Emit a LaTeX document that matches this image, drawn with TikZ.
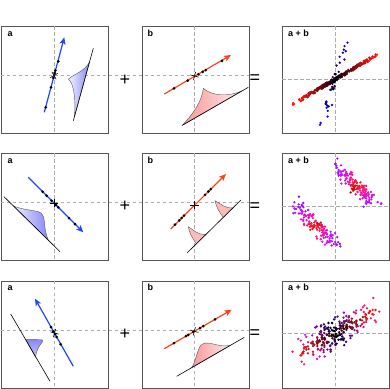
\documentclass[tikz,border=0pt]{standalone}
\usepackage{fontspec}
\setmainfont{Liberation Sans}
\usetikzlibrary{arrows.meta,shapes.misc}

\definecolor{acol}{RGB}{30,70,255}
\definecolor{bcol}{RGB}{255,65,25}
\definecolor{afill}{RGB}{135,135,250}
\definecolor{bfill}{RGB}{250,150,150}
\definecolor{frame}{RGB}{85,85,85}

\tikzset{
  pbox/.style={draw=frame,line width=1.1pt,minimum width=107pt,minimum height=107pt,inner sep=0,anchor=north west},
  guide/.style={gray!65,line width=0.8pt,dash pattern=on 3.5pt off 2.5pt},
  tag/.style={font=\bfseries\fontsize{9}{10}\selectfont,anchor=base west,inner sep=0},
  op/.style={font=\fontsize{18}{18}\selectfont,inner sep=0},
  aarr/.style={acol,line width=1.2pt,-{Stealth[length=7pt,width=6pt,inset=1.5pt]}},
  barr/.style={bcol,line width=1.2pt,-{Stealth[length=7pt,width=6pt,inset=1.5pt]}},
  xmark/.style={cross out,draw=black,line width=0.6pt,minimum size=5.5pt,inner sep=0},
  dens/.style={draw=black!65,line width=0.4pt},
  base/.style={black,line width=0.6pt}
}
% colour of a mixed sample from its two source values
\newcommand\mixdot[4]{%
  \pgfmathsetmacro\m{min(1,(abs(#1)+abs(#2))/#3)}%
  \pgfmathsetmacro\w{abs(#1)/(abs(#1)+abs(#2)+0.01)}%
  \pgfmathsetmacro\dr{\m*min(1,1.3*(1-\w))}%
  \pgfmathsetmacro\dg{0.08*\dr}%
  \pgfmathsetmacro\db{\m*min(1,2.5*\w)}%
  \definecolor{#4}{rgb}{\dr,\dg,\db}}

\begin{document}
\begin{tikzpicture}[x=1pt,y=-1pt]
\useasboundingbox (0,0) rectangle (390,388);

% frames, guides and tags
\foreach \r/\y in {1/26.3,2/153.3,3/280.5}{
  \node[pbox] (pa\r) at (0.6,\y) {};
  \node[pbox] (pb\r) at (142.3,\y) {};
  \node[pbox] (pc\r) at (282.3,\y) {};
  \draw[guide] (54,\y) -- (54,\y+107);
  \draw[guide] (194.5,\y) -- (194.5,\y+107);
  \draw[guide] (335.7,\y) -- (335.7,\y+107);
  \draw[guide] (0.6,\y+49.5) -- (249.3,\y+49.5);
  \draw[guide] (282.3,\y+52.7) -- (389.3,\y+52.7);
  \node[tag] (ta\r) at (7.5,\y+10) {a};
  \node[tag] (tb\r) at (147.5,\y+10) {b};
  \node[tag] (tc\r) at (288,\y+10) {a + b};
}
\node[op] (plus1) at (125,80) {+};
\node[op] (plus2) at (125,206.5) {+};
\node[op] (plus3) at (125,334) {+};
\node[op] (eq1) at (255,79) {=};
\node[op] (eq2) at (255,207) {=};
\node[op] (eq3) at (255,334) {=};

% row 1
\shadedraw[dens,left color=afill!10,right color=afill] (89.5,62) .. controls (84,72) and (74,74) .. (68.5,79) .. controls (74,84) and (76,100) .. (74.3,117) -- cycle;
\draw[base] (73.3,120.7) -- (93.3,48.3);
\draw[aarr] (44.3,112.3) -- (64.3,37.3);
\foreach \p in {(58.3,61.3),(55.3,70.5),(54.6,73),(53.3,78),(51,87.3),(45.7,107.3)} \fill \p circle (1.5);
\node[xmark,rotate=75] (ma1) at (54,75.5) {};

\shadedraw[dens,left color=bfill,right color=bfill!20] (182.3,125.3) .. controls (195,112) and (202,100) .. (203.3,88.3) .. controls (212,96) and (228,97) .. (242,90.9) -- cycle;
\draw[base] (182.3,125.3) -- (248.3,87.3);
\draw[barr] (164.3,94) -- (231,55);
\foreach \p in {(174,88.3),(187.7,80.7),(198.3,74.3),(202.7,71.8),(205.7,70.2),(222,60.8)} \fill \p circle (1.5);
\node[xmark,rotate=30] (mb1) at (194.5,76) {};

% row 2
\shadedraw[dens,left color=afill!15,right color=afill] (13.3,205.8) .. controls (20,209) and (30,210) .. (38,211.5) .. controls (44,213) and (44,218) .. (45,228) .. controls (46,234) and (47,237) .. (48.3,240.2) -- cycle;
\draw[base] (4,196.7) -- (60,251.7);
\draw[aarr] (28.3,177.3) -- (83.3,232.3);
\foreach \p in {(42.7,191.7),(46.7,195.7),(51.7,200.7),(56,205),(58.3,207.3),(69,218),(75,224)} \fill \p circle (1.5);
\node[xmark,rotate=-45] (ma2) at (54,203) {};

\filldraw[dens,fill=bfill!65] (196.4,243.7) .. controls (192,238) and (189,232) .. (188.3,226.7) .. controls (194,230) and (197,235) .. (206.1,234.3) -- cycle;
\filldraw[dens,fill=bfill!65] (223.3,217.4) .. controls (219,212) and (216,206) .. (215,200.7) .. controls (221,204) and (225,208.5) .. (232.9,207.9) -- cycle;
\draw[base] (187.3,252.7) -- (241,200);
\draw[barr] (170.7,229) -- (226,174);
\foreach \p in {(175,224.7),(179.3,220.4),(181.7,218),(184,215.7),(205,194.9),(208.3,191.5),(210.7,189.2)} \fill \p circle (1.5);
\node[xmark,rotate=45] (mb2) at (194.3,205) {};

% row 3
\shadedraw[dens,top color=afill,bottom color=afill!45] (25.7,339.7) -- (41,339.5) .. controls (43,340) and (43,341) .. (42,342.5) .. controls (38,347) and (36,352) .. (35.6,357.3) -- cycle;
\draw[base] (10.7,314) -- (50,381.3);
\draw[aarr] (73.3,366.3) -- (35,298.7);
\foreach \p in {(51,327),(53.3,331.3),(55,334),(56.7,337),(60.7,344.2)} \fill \p circle (1.5);
\node[xmark,rotate=120] (ma3) at (54.5,333) {};

\shadedraw[dens,left color=bfill,right color=bfill!20] (191.7,367.6) .. controls (196,361) and (197,350) .. (201,345) .. controls (205,341) and (212,344) .. (220,345.5) .. controls (224,346) and (227,346) .. (230,345.5) -- cycle;
\draw[base] (176.7,376.3) -- (244.3,337.3);
\draw[barr] (164.3,348.7) -- (231.7,309.7);
\foreach \p in {(174,343.1),(186,336.1),(188.3,334.8),(193.3,331.9),(200,328),(203.3,326.1),(215,319.4)} \fill \p circle (1.5);
\node[xmark,rotate=30] (mb3) at (194.3,331.3) {};

% mixtures
\begin{scope}
\clip (282.3,26.3) rectangle ++(107,107);
\pgfmathsetseed{11}
\foreach \i in {1,...,300}{
  \pgfmathsetmacro\ka{mod(\i,7)==0}
  \pgfmathsetmacro\u{rand}
  \pgfmathsetmacro\sa{\ka*46*(\u)*abs(\u)+(1-\ka)*2.2*rand}
  \pgfmathsetmacro\sb{\ka*5*rand+(1-\ka)*54*(0.6*rand+0.4*rand)}
  \mixdot{\sa}{\sb}{44}{dot}
  \pgfmathsetmacro\px{335.7+0.27*(\sa)+0.863*(\sb)}
  \pgfmathsetmacro\py{79-0.96*(\sa)-0.505*(\sb)}
  \fill[dot] (\px,\py) circle (1.3);
}
\end{scope}

\begin{scope}
\clip (282.3,153.3) rectangle ++(107,107);
\pgfmathsetseed{5}
\foreach \i in {1,...,280}{
  \pgfmathsetmacro\sb{(2*mod(\i,2)-1)*28+9*(0.5*rand+0.5*rand)}
  \pgfmathsetmacro\sa{34*(0.7*rand+0.3*rand)}
  \mixdot{\sa}{\sb}{32}{dot}
  \pgfmathsetmacro\px{335.7+0.707*(\sa)+0.71*(\sb)}
  \pgfmathsetmacro\py{206+0.707*(\sa)-0.70*(\sb)}
  \fill[dot] (\px,\py) circle (1.3);
}
\end{scope}

\begin{scope}
\clip (282.3,280.5) rectangle ++(107,107);
\pgfmathsetseed{23}
\foreach \i in {1,...,260}{
  \pgfmathsetmacro\sb{52*(0.65*rand+0.35*rand)}
  \pgfmathsetmacro\sa{16*(0.5*rand+0.5*rand)}
  \mixdot{\sa}{\sb}{42}{dot}
  \pgfmathsetmacro\px{335.7-0.49*(\sa)+0.865*(\sb)}
  \pgfmathsetmacro\py{333.2-0.87*(\sa)-0.5*(\sb)}
  \fill[dot] (\px,\py) circle (1.3);
}
\end{scope}
\end{tikzpicture}
\end{document}
